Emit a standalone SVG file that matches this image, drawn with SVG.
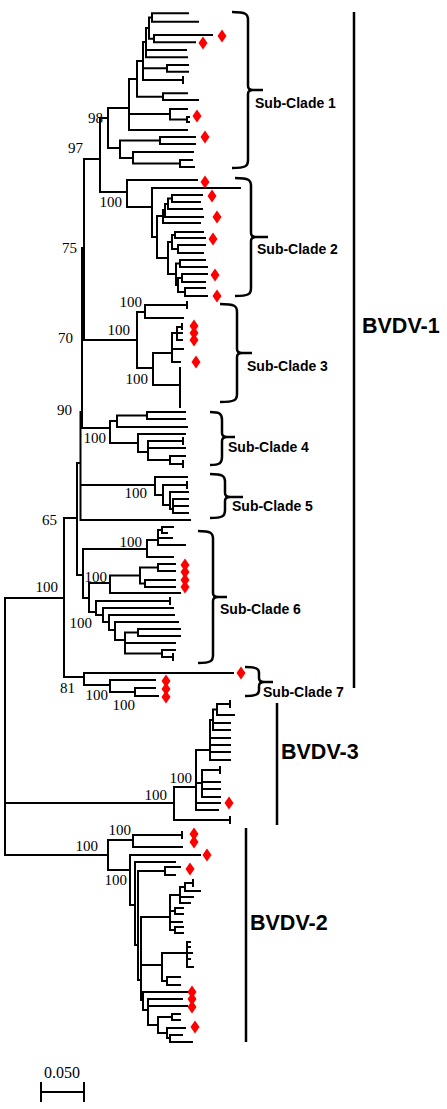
<svg xmlns="http://www.w3.org/2000/svg" width="447" height="1109" viewBox="0 0 447 1109">
<style>
.t{fill:none;stroke:#000;stroke-width:2;stroke-linecap:square}
.b{fill:none;stroke:#000;stroke-width:2.5}
.bs{font-family:"Liberation Serif","Times New Roman",serif;font-size:15px;fill:#000;text-anchor:end}
.sc{font-family:"Liberation Sans",Arial,sans-serif;font-size:14px;font-weight:bold;fill:#000}
.gt{font-family:"Liberation Sans",Arial,sans-serif;font-size:21.5px;font-weight:bold;fill:#000}
</style>
<defs><path id="d" d="M0,-6.5 L4.5,0 L0,6.5 L-4.5,0 Z" fill="#f00"/></defs>
<rect width="447" height="1109" fill="#fff"/>
<g id="connectors" class="t">
<path d="M5,598 V855 M5,598 H64 M5,803 H174 M5,855 H108 M64,518 V677 M64,518 H77 M64,677 H84 M77,463 V575 M77,463 H80.5 M77,575 H83 M80.5,412 V520 M80.5,412 H82 M82,248 V428 M82,248 H84 M84,159 V340 M84,159 H100 M82,340 H137 M80.5,428 H110 M80.5,485 H155 M80.5,520 H190"/>
</g>
<g id="subclade1" class="t">
<path d="M152,13.3 V21.7 M152,13.3 H188 M152,21.7 H198 M149,17.5 V38.7 M149,17.5 H152 M149,38.7 H154 M154,35 V42.3 M154,35 H212 M154,42.3 H195 M146,28 V57.3 M146,28 H149 M146,50 H186 M146,57.3 H187 M143,42 V80 M143,42 H146 M143,68.3 H167 M143,80 H183 M183,77 V83 M167,65 V71.7 M167,65 H188 M167,71.7 H188 M137,61 V96.7 M137,61 H143 M137,96.7 H163 M163,93.3 V100 M163,93.3 H187 M163,100 H198 M129,79 V130 M129,79 H137 M129,114 H170 M129,130 H187 M170,109 V119.5 M170,109 H187 M170,119.5 H187 M187,117 V122 M187,117 H189 M187,122 H189 M108,108 V148 M108,108 H129 M108,148 H120 M120,140.5 V158 M120,140.5 H160 M120,158 H133 M160,137 V144 M160,137 H195 M160,144 H195 M133,152 V163.5 M133,152 H193 M133,163.5 H180 M180,160 V167 M180,160 H192 M180,167 H194 M100,118 V192 M100,118 H108 M100,192 H127"/>
</g>
<g id="subclade2" class="t">
<path d="M127,180 V207 M127,180 H197 M127,207 H152 M152,188 V237 M152,188 H240 M152,237 H157 M157,216 V258 M157,216 H163 M157,258 H168 M172,195 V202 M172,195 H202 M172,202 H200 M168,198.5 V209 M168,198.5 H172 M168,209 H202 M165,204 V217 M165,204 H168 M165,217 H203 M163,210 V223 M163,210 H165 M163,223 H200 M175,232 V238 M175,232 H203 M175,238 H205 M178,245 V253 M178,245 H205 M178,253 H203 M172,235 V249 M172,235 H175 M172,249 H178 M180,260 V267 M180,260 H205 M180,267 H207 M182,274 V282 M182,274 H207 M182,282 H205 M185,288 V296 M185,288 H205 M185,296 H207 M178,278 V292 M178,278 H182 M178,292 H185 M176,263.5 V285 M176,263.5 H180 M176,285 H178 M168,242 V274 M168,242 H172 M168,274 H176"/>
</g>
<g id="subclade3" class="t">
<path d="M137,312 V368 M137,312 H145 M145,305 V318 M145,305 H187 M187,302 V308 M145,318 H183 M137,368 H153 M153,353 V385 M153,353 H172 M153,385 H180 M180,368 V407 M172,333 V362 M172,333 H177 M172,349 H183 M172,362 H180 M177,327 V340 M177,327 H182 M177,333 H182 M177,340 H182 M182,324 V329"/>
</g>
<g id="subclade4" class="t">
<path d="M110,421 V443 M110,421 H117 M110,443 H138 M117,415.5 V427 M117,415.5 H147 M117,427 H187 M147,412 V419 M147,412 H185 M147,419 H185 M138,434 V452 M138,434 H185 M138,452 H148 M148,441 V460 M148,441 H183 M183,438 V444 M148,448 H185 M148,460 H170 M170,456 V464 M170,456 H185 M170,464 H183 M183,461 V467"/>
</g>
<g id="subclade5" class="t">
<path d="M155,477 V495 M155,477 H187 M155,495 H163 M163,485 V505 M163,485 H187 M187,482 V488 M163,505 H170 M170,492 V509 M170,492 H188 M170,509 H173 M173,499 V513 M173,499 H188 M173,506 H188 M173,513 H188"/>
</g>
<g id="subclade6" class="t">
<path d="M83,549 V598 M83,549 H147 M83,598 H89 M147,540 V557 M147,540 H158 M147,557 H173 M158,530 V545 M158,530 H162 M158,538 H172 M158,545 H185 M162,527 V533 M162,527 H173 M162,533 H167 M89,583 V612 M89,583 H110 M89,612 H96 M110,575.5 V593 M110,575.5 H140 M110,593 H180 M140,567.5 V583.5 M140,567.5 H158 M140,583.5 H145 M158,564 V571 M158,564 H175 M158,571 H175 M145,580 V587 M145,580 H175 M145,587 H175 M96,601 V615 M96,601 H170 M170,598 V604 M96,615 H103 M103,608 V622 M103,608 H173 M103,622 H109 M109,615 V630 M109,615 H174 M109,630 H115 M115,622 V640 M115,622 H178 M115,640 H125 M125,632.5 V653.5 M125,632.5 H138 M125,643 H175 M125,653.5 H162 M138,629 V636 M138,629 H180 M138,636 H180 M162,650 V657 M162,650 H175 M162,657 H173 M173,654 V660"/>
</g>
<g id="subclade7" class="t">
<path d="M84,673 V685 M84,673 H233 M84,685 H110 M110,680 V692 M110,680 H155 M110,692 H135 M135,688 V696 M135,688 H155 M135,696 H158"/>
</g>
<g id="bvdv3" class="t">
<path d="M174,787 V820 M174,787 H196 M174,820 H230 M230,817 V823 M196,750 V810 M196,750 H210 M196,783 H202 M196,803 H220 M196,810 H218 M210,720 V760 M210,720 H213 M210,738 H230 M210,745 H230 M210,752 H230 M210,760 H230 M213,709.5 V730 M213,709.5 H217 M213,723 H230 M213,730 H230 M217,704 V715 M217,704 H230 M230,701 V707 M217,715 H234 M202,770 V797 M202,770 H220 M220,767 V773 M202,782 H220 M202,789 H220 M202,797 H220"/>
</g>
<g id="bvdv2" class="t">
<path d="M108,840 V870 M108,840 H133 M108,870 H130 M133,835 V847 M133,835 H182 M182,832 V838 M133,847 H182 M130,855 V905 M130,855 H200 M130,905 H135 M135,862 V945 M135,862 H175 M135,945 H138 M138,871 V980 M138,871 H165 M138,980 H141 M165,867 V875 M165,867 H180 M165,875 H175 M141,917 V1000 M141,917 H170 M141,965 H162 M141,1000 H143 M170,895 V930 M170,895 H180 M170,911 H175 M170,922 H182 M170,930 H175 M180,887 V903 M180,887 H185 M180,897 H193 M180,903 H190 M185,883 V891 M185,883 H193 M193,880 V886 M185,891 H200 M175,908 V914 M175,908 H183 M175,914 H183 M175,927 V933 M175,927 H183 M175,933 H183 M162,953 V981 M162,953 H187 M162,981 H167 M187,942 V967 M187,942 H190 M187,947 H190 M187,953 H192 M187,959 H190 M187,967 H193 M167,977 V985 M167,977 H180 M167,985 H180 M143,992 V1010 M143,992 H188 M143,1010 H148 M148,999 V1025 M148,999 H182 M148,1006 H187 M148,1025 H158 M158,1017 V1033 M158,1017 H172 M158,1033 H167 M172,1014 V1020 M172,1014 H180 M172,1020 H180 M167,1028 V1038 M167,1028 H185 M167,1038 H170 M170,1035 V1042 M170,1035 H182 M170,1042 H192"/>
</g>
<g id="markers">
<use href="#d" x="222" y="36"/><use href="#d" x="203" y="43"/><use href="#d" x="197" y="116"/><use href="#d" x="205" y="137"/>
<use href="#d" x="205" y="182"/><use href="#d" x="212" y="196"/><use href="#d" x="217" y="217"/><use href="#d" x="213" y="239"/><use href="#d" x="215" y="275"/><use href="#d" x="217" y="296"/>
<use href="#d" x="194" y="326"/><use href="#d" x="194" y="333"/><use href="#d" x="194" y="340"/><use href="#d" x="196" y="362"/>
<use href="#d" x="185" y="565"/><use href="#d" x="185" y="572"/><use href="#d" x="185" y="580"/><use href="#d" x="185" y="587"/>
<use href="#d" x="241" y="673"/><use href="#d" x="166" y="681"/><use href="#d" x="166" y="689"/><use href="#d" x="166" y="697"/>
<use href="#d" x="229" y="803"/>
<use href="#d" x="194" y="834"/><use href="#d" x="194" y="842"/><use href="#d" x="207" y="855"/><use href="#d" x="190" y="869"/><use href="#d" x="192" y="992"/><use href="#d" x="192" y="999"/><use href="#d" x="192" y="1007"/><use href="#d" x="195" y="1027"/>
</g>
<g id="braces" class="b">
<path d="M232,12 C246,12 248,14 248,20 V86 Q248,90 253,90 H263 M253,90 Q248,90 248,94 V160 C248,166 246,168 232,168"/>
<path d="M235,178 C249,178 251,180 251,186 V233 Q251,237 256,237 H268 M256,237 Q251,237 251,241 V288 C251,294 249,296 235,296"/>
<path d="M220,304 C235,304 237,306 237,312 V349 Q237,353 242,353 H252 M242,353 Q237,353 237,357 V394 C237,400 235,402 220,402"/>
<path d="M210,412 C220,412 222,414 222,420 V433 Q222,437 227,437 H235 M227,437 Q222,437 222,441 V457 C222,463 220,465 210,465"/>
<path d="M210,474 C223,474 225,476 225,482 V493 Q225,497 230,497 H243 M230,497 Q225,497 225,501 V510 C225,516 223,518 210,518"/>
<path d="M198,531 C211,531 213,533 213,539 V593 Q213,597 218,597 H227 M218,597 Q213,597 213,601 V655 C213,661 211,663 198,663"/>
<path d="M245,667 C257,667 259,669 259,673 V678 Q259,682 264,682 H273 M264,682 Q259,682 259,686 V690 C259,694 257,696 245,696"/>
<path d="M354,12 V688 M277,703 V825 M246,828 V1042"/>
</g>
<g id="scalebar">
<path class="t" d="M41,1092 H84 M41,1082 V1102 M84,1082 V1102" style="stroke-linecap:butt"/>
<text x="62" y="1078" style="font-family:'Liberation Serif',serif;font-size:16px;text-anchor:middle">0.050</text>
</g>
<g id="bootstrap" class="bs">
<text x="83" y="153">97</text>
<text x="103" y="123">98</text>
<text x="122" y="207">100</text>
<text x="77" y="253">75</text>
<text x="142" y="307">100</text>
<text x="130" y="335">100</text>
<text x="73" y="343">70</text>
<text x="148" y="384">100</text>
<text x="72" y="415">90</text>
<text x="106" y="443">100</text>
<text x="147" y="498">100</text>
<text x="57" y="525">65</text>
<text x="142" y="547">100</text>
<text x="107" y="582">100</text>
<text x="58" y="592">100</text>
<text x="92" y="628">100</text>
<text x="75" y="693">81</text>
<text x="108" y="700">100</text>
<text x="135" y="710">100</text>
<text x="192" y="783">100</text>
<text x="167" y="800">100</text>
<text x="131" y="835">100</text>
<text x="98" y="851">100</text>
<text x="127" y="885">100</text>
</g>
<g id="labels">
<text class="sc" x="255" y="108">Sub-Clade 1</text>
<text class="sc" x="257" y="254">Sub-Clade 2</text>
<text class="sc" x="247" y="371">Sub-Clade 3</text>
<text class="sc" x="228" y="452">Sub-Clade 4</text>
<text class="sc" x="232" y="511">Sub-Clade 5</text>
<text class="sc" x="220" y="614">Sub-Clade 6</text>
<text class="sc" x="263" y="697">Sub-Clade 7</text>
<text class="gt" x="362" y="333">BVDV-1</text>
<text class="gt" x="281" y="759">BVDV-3</text>
<text class="gt" x="250" y="930">BVDV-2</text>
</g>
</svg>
